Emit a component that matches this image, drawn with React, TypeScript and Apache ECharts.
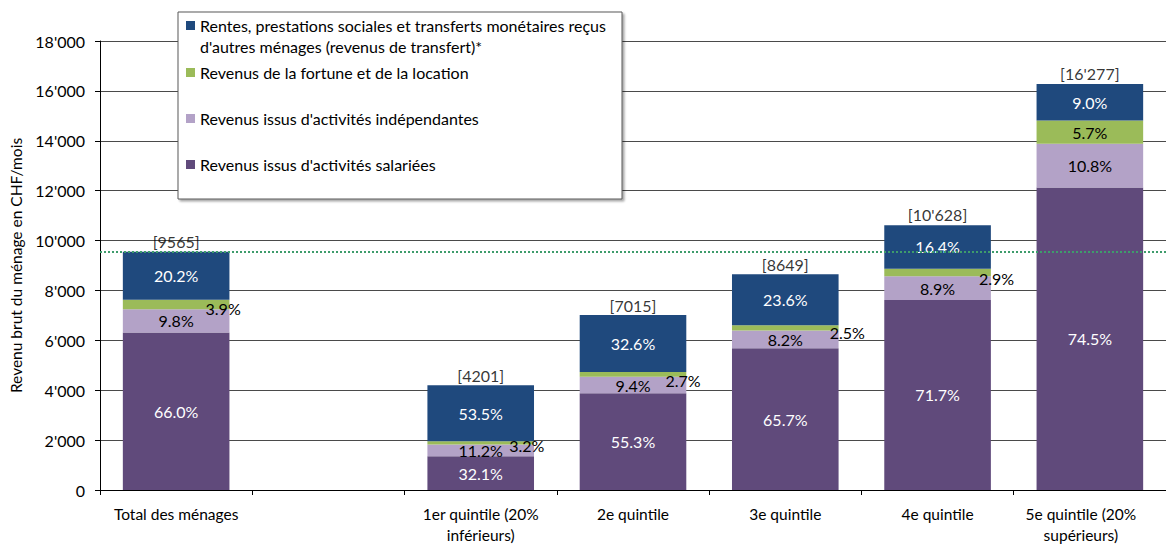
import React, { useEffect, useRef } from "react";
import * as echarts from "echarts";

const categories = [
  "Total des ménages",
  "",
  "1er quintile (20%\ninférieurs)",
  "2e quintile",
  "3e quintile",
  "4e quintile",
  "5e quintile (20%\nsupérieurs)",
];
const totals = [9565, null, 4201, 7015, 8649, 10628, 16277];
const salaried = [6313, null, 1349, 3879, 5682, 7620, 12126];
const independent = [937, null, 471, 659, 709, 946, 1758];
const wealth = [373, null, 134, 189, 216, 308, 928];
const transfers = [1932, null, 2248, 2287, 2041, 1743, 1465];
const pctSalaried = ["66.0", null, "32.1", "55.3", "65.7", "71.7", "74.5"];
const pctIndependent = ["9.8", null, "11.2", "9.4", "8.2", "8.9", "10.8"];
const pctWealth = ["3.9", null, "3.2", "2.7", "2.5", "2.9", "5.7"];
const pctTransfers = ["20.2", null, "53.5", "32.6", "23.6", "16.4", "9.0"];
const averageTotal = 9565;
const yTicks = { min: 0, max: 18000, interval: 2000 };

const seriesNames = [
  "Revenus issus d'activités salariées",
  "Revenus issus d'activités indépendantes",
  "Revenus de la fortune et de la location",
  "Rentes, prestations sociales et transferts monétaires reçus d'autres ménages (revenus de transfert)*",
];

const COLORS = ["#604A7B", "#B3A2C7", "#9BBB59", "#1F497D"];
const FONT = "Lato";
const wealthLabelOffsets: (number[] | null)[] = [[47, 4], null, [46, 3], [50, 6], [62, 5], [59, 6], null];

const fmtThousands = (n: number) => {
  if (n < 10000) return String(n);
  return String(n).replace(/\B(?=(\d{3})+(?!\d))/g, "'");
};

export default function App() {
  const ref = useRef<HTMLDivElement>(null);
  useEffect(() => {
    if (!ref.current) return;
    const chart = echarts.init(ref.current, undefined, { renderer: "svg" });

    const mkLabel = (pcts: (string | null)[], color: string) => ({
      show: true,
      position: "inside",
      color,
      fontFamily: FONT,
      fontSize: 16,
      formatter: (p: any) => (pcts[p.dataIndex] ? pcts[p.dataIndex] + "%" : ""),
    });

    const barBase = {
      type: "bar",
      stack: "total",
      barCategoryGap: "30%",
    };

    const legendItems = [
      { color: COLORS[3], y: 21, lines: ["Rentes, prestations sociales et transferts monétaires reçus", "d'autres ménages (revenus de transfert)*"] },
      { color: COLORS[2], y: 68, lines: [seriesNames[2]] },
      { color: COLORS[1], y: 114, lines: [seriesNames[1]] },
      { color: COLORS[0], y: 160, lines: [seriesNames[0]] },
    ];

    const legendGraphics: any[] = [
      {
        type: "rect",
        shape: { x: 178, y: 12, width: 444, height: 187 },
        style: { fill: "#fff", stroke: "#595959", lineWidth: 1, shadowColor: "rgba(0,0,0,0.35)", shadowOffsetX: 2, shadowOffsetY: 2, shadowBlur: 2 },
        z: 100,
      },
    ];
    legendItems.forEach((it) => {
      legendGraphics.push({
        type: "rect",
        shape: { x: 186, y: it.y, width: 9, height: 9 },
        style: { fill: it.color },
        z: 101,
      });
      it.lines.forEach((ln, k) => {
        legendGraphics.push({
          type: "text",
          x: 200,
          y: it.y + 4.5 + k * 21,
          style: { text: ln, fill: "#000", font: `16px ${FONT}`, textVerticalAlign: "middle" },
          z: 101,
        });
      });
    });

    const option: any = {
      animation: false,
      backgroundColor: "#fff",
      grid: { left: 100, right: -10, top: 41, bottom: 53 },
      xAxis: {
        type: "category",
        data: categories.map((c, i) =>
          i === 6 ? { value: c, textStyle: { padding: [0, 18, 0, 0] } } : c
        ),
        axisLine: { lineStyle: { color: "#000", width: 1 } },
        axisTick: { show: true, length: 5, lineStyle: { color: "#000" } },
        axisLabel: { color: "#000", fontFamily: FONT, fontSize: 15.5, lineHeight: 21, margin: 13, interval: 0 },
      },
      yAxis: {
        type: "value",
        ...yTicks,
        name: "Revenu brut du ménage en CHF/mois",
        nameLocation: "middle",
        nameGap: 72,
        nameTextStyle: { color: "#000", fontFamily: FONT, fontSize: 15.5 },
        axisLine: { show: true, lineStyle: { color: "#000" } },
        axisTick: { show: true, length: 5, lineStyle: { color: "#000" } },
        axisLabel: {
          color: "#000",
          fontFamily: FONT,
          fontSize: 16,
          margin: 15,
          formatter: (v: number) => (v === 0 ? "0" : String(v).replace(/\B(?=(\d{3})+(?!\d))/g, "'")),
        },
        splitLine: { show: true, lineStyle: { color: "#4a4a4a", width: 1 } },
      },
      series: [
        {
          ...barBase,
          name: seriesNames[0],
          data: salaried,
          itemStyle: { color: COLORS[0] },
          label: mkLabel(pctSalaried, "#fff"),
        },
        {
          ...barBase,
          name: seriesNames[1],
          data: independent,
          itemStyle: { color: COLORS[1] },
          label: mkLabel(pctIndependent, "#000"),
        },
        {
          ...barBase,
          name: seriesNames[2],
          data: wealth.map((v, i) =>
            wealthLabelOffsets[i] ? { value: v, label: { offset: wealthLabelOffsets[i] } } : v
          ),
          itemStyle: { color: COLORS[2] },
          label: mkLabel(pctWealth, "#000"),
        },
        {
          ...barBase,
          name: seriesNames[3],
          data: transfers,
          itemStyle: { color: COLORS[3] },
          label: mkLabel(pctTransfers, "#fff"),
        },
        {
          type: "scatter",
          name: "Total",
          data: totals,
          symbolSize: 0,
          z: 5,
          label: {
            show: true,
            position: "top",
            distance: 2,
            color: "#000",
            fontFamily: FONT,
            fontSize: 16,
            formatter: (p: any) => (totals[p.dataIndex] ? `[${fmtThousands(totals[p.dataIndex] as number)}]` : ""),
          },
          markLine: {
            silent: true,
            symbol: "none",
            z: 10,
            label: { show: false },
            lineStyle: { color: "#3E9C6C", type: [2, 2], width: 2 },
            data: [{ yAxis: averageTotal }],
          },
        },
      ],
      graphic: legendGraphics,
    };

    chart.setOption(option);
    return () => chart.dispose();
  }, []);

  return <div ref={ref} style={{ width: 1166, height: 545, position: "absolute", left: 0, top: 0 }} />;
}
